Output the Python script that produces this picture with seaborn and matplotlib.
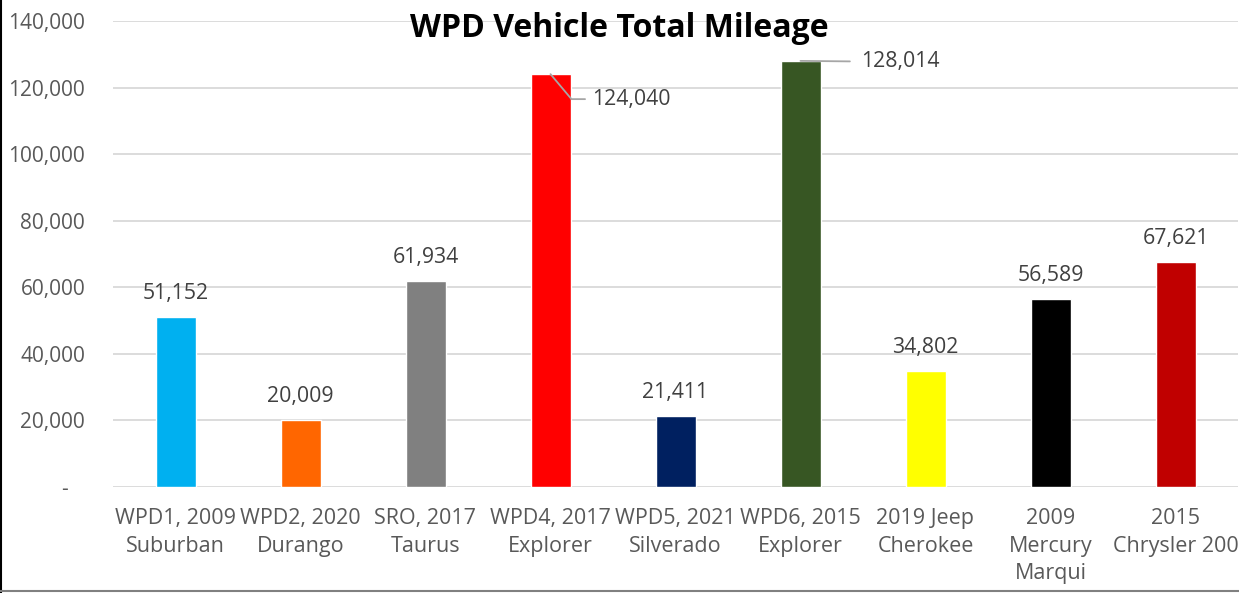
import numpy as np
import pandas as pd
import matplotlib
matplotlib.use("Agg")
import matplotlib.pyplot as plt
import seaborn as sns
from matplotlib.ticker import FuncFormatter
from matplotlib.lines import Line2D

# chart data
vehicles = ["WPD1, 2009\nSuburban", "WPD2, 2020\nDurango", "SRO, 2017\nTaurus",
            "WPD4, 2017\nExplorer", "WPD5, 2021\nSilverado", "WPD6, 2015\nExplorer",
            "2019 Jeep\nCherokee", "2009\nMercury\nMarqui", "2015\nChrysler 200"]
mileage = [51152, 20009, 61934, 124040, 21411, 128014, 34802, 56589, 67621]
bar_colors = ["#00B0F0", "#FF6600", "#808080", "#FF0000", "#002060",
              "#375623", "#FFFF00", "#000000", "#C00000"]
y_ticks = [0, 20000, 40000, 60000, 80000, 100000, 120000, 140000]

sns.set_theme(style="white")
plt.rcParams['font.family'] = ['Open Sans', 'DejaVu Sans']

df = pd.DataFrame({'Vehicle': vehicles, 'Mileage': mileage})

fig = plt.figure(figsize=(12.39, 5.93), dpi=100)
ax = fig.add_axes([113 / 1239, 106 / 593, 1125 / 1239, 466 / 593])

sns.barplot(data=df, x='Vehicle', y='Mileage', hue='Vehicle', palette=bar_colors,
            width=0.32, legend=False, ax=ax, saturation=1)

ax.set_ylim(0, 140000)
ax.set_xlim(-0.5, len(vehicles) - 0.5)
ax.set_yticks(y_ticks)
# excel accounting style: zero shown as a dash
ax.yaxis.set_major_formatter(FuncFormatter(lambda v, p: "-   " if v == 0 else f"{v:,.0f}"))
ax.grid(axis='y', color='#D9D9D9', linewidth=1.3)
ax.set_axisbelow(True)
for s in ax.spines.values():
    s.set_visible(False)
ax.set_xlabel('')
ax.set_ylabel('')
ax.tick_params(axis='y', labelsize=15, labelcolor='#595959', pad=20, length=0)
ax.tick_params(axis='x', labelsize=15.5, labelcolor='#595959', pad=15, length=0)
for lbl in ax.get_xticklabels():
    lbl.set_linespacing(1.42)
    lbl.set_va('top')

# data labels
lab_size = 15.3
for i, v in enumerate(mileage):
    txt = f"{v:,}"
    if i == 3:
        ax.annotate(txt, xy=(i, v), xytext=(42, -25), textcoords='offset pixels',
                    ha='left', va='center', fontsize=lab_size, color='#404040',
                    arrowprops=dict(arrowstyle='-', color='#A6A6A6', lw=1.3,
                                    connectionstyle='angle,angleA=0,angleB=-50,rad=0',
                                    shrinkA=3, shrinkB=0))
    elif i == 5:
        ax.annotate(txt, xy=(i, v), xytext=(61, -1), textcoords='offset pixels',
                    ha='left', va='center', fontsize=lab_size, color='#404040',
                    arrowprops=dict(arrowstyle='-', color='#A6A6A6', lw=1.3,
                                    shrinkA=6, shrinkB=0))
    else:
        ax.annotate(txt, xy=(i, v), xytext=(0, 13), textcoords='offset pixels',
                    ha='center', va='bottom', fontsize=lab_size, color='#404040')

fig.text(0.5, 1 - 37 / 593, "WPD Vehicle Total Mileage", ha='center', va='baseline',
         fontsize=23, fontweight='bold', color='black')

# chart frame edges
fig.add_artist(Line2D([0.0008, 0.0008], [0, 1], color='black', lw=1.5, transform=fig.transFigure))
fig.add_artist(Line2D([0, 1], [0.003, 0.003], color='#808080', lw=1.5, transform=fig.transFigure))

fig.savefig('out.png', dpi=100)
